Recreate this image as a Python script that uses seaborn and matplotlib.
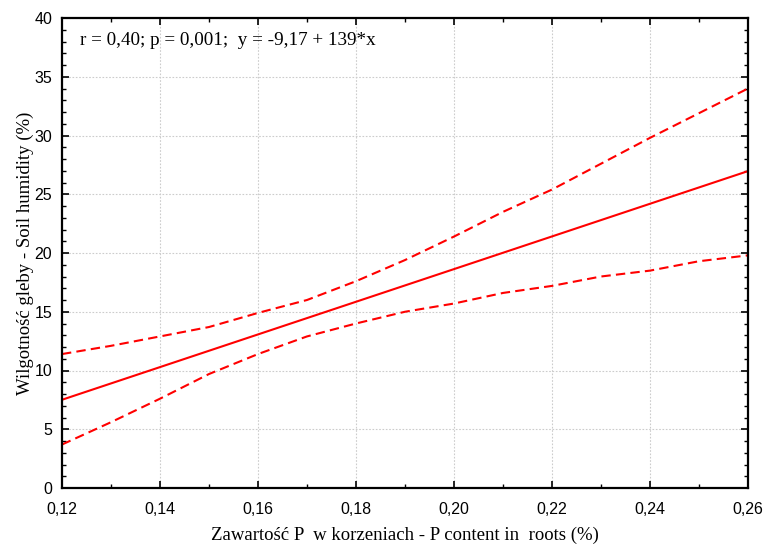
import numpy as np
import pandas as pd
import matplotlib
matplotlib.use("Agg")
import matplotlib.pyplot as plt
from matplotlib.ticker import MultipleLocator, FuncFormatter
import seaborn as sns

# Phosphorus content in roots (%)
p_content = [0.12, 0.13, 0.14, 0.15, 0.16, 0.17, 0.18, 0.19, 0.20,
             0.21, 0.22, 0.23, 0.24, 0.25, 0.26]
# 95% confidence band for the regression line
upper_ci = [11.4, 12.1, 12.9, 13.7, 14.9, 16.0, 17.6, 19.4, 21.4,
            23.5, 25.4, 27.6, 29.8, 31.9, 34.0]
lower_ci = [3.7, 5.6, 7.6, 9.7, 11.4, 12.9, 14.0, 15.0, 15.7,
            16.6, 17.2, 18.0, 18.5, 19.3, 19.8]
# Regression statistics
r_value = "0,40"
p_value = "0,001"
intercept = -9.17
slope = 139

x = np.array(p_content)
df = pd.DataFrame({
    "x": np.concatenate([x, x, x]),
    "y": np.concatenate([intercept + slope * x, upper_ci, lower_ci]),
    "kind": ["fit"] * len(x) + ["upper"] * len(x) + ["lower"] * len(x),
})

sns.set_theme(style="white")
plt.rcParams["font.family"] = ["Liberation Sans", "DejaVu Sans"]

fig = plt.figure(figsize=(7.66, 5.46), dpi=100)
ax = fig.add_axes([62 / 766, 58 / 546, 686 / 766, 470 / 546])

sns.lineplot(data=df, x="x", y="y", hue="kind", style="kind",
             palette={"fit": "#ff0000", "upper": "#ff0000", "lower": "#ff0000"},
             dashes={"fit": "", "upper": (4.5, 2.5), "lower": (4.5, 2.5)},
             linewidth=1.5, legend=False, ax=ax, sort=True)

ax.set_xlim(0.12, 0.26)
ax.set_ylim(0, 40)
ax.xaxis.set_major_locator(MultipleLocator(0.02))
ax.xaxis.set_minor_locator(MultipleLocator(0.01))
ax.yaxis.set_major_locator(MultipleLocator(5))
ax.yaxis.set_minor_locator(MultipleLocator(1))
ax.xaxis.set_major_formatter(FuncFormatter(lambda v, _: f"{v:.2f}".replace(".", ",")))
ax.yaxis.set_major_formatter(FuncFormatter(lambda v, _: f"{v:.0f}"))

ax.grid(True, which="major", color="#cccccc", linestyle=(0, (1.5, 1.5)), linewidth=0.8)
for s in ax.spines.values():
    s.set_color("black")
    s.set_linewidth(1.6)

ax.tick_params(which="major", direction="in", length=5, width=1.2, color="black",
               top=True, right=True, bottom=True, left=True,
               labelsize=11.5, labelcolor="black")
ax.tick_params(axis="x", which="major", pad=10)
ax.tick_params(axis="y", which="major", pad=7)
ax.tick_params(which="minor", direction="in", length=3, width=1.0, color="black",
               top=True, right=True, bottom=True, left=True)

serif = ["Liberation Serif", "DejaVu Serif"]
ax.set_xlabel("Zawartość P  w korzeniach - P content in  roots (%)",
              family=serif, fontsize=13.5, color="black", labelpad=7)
ax.set_ylabel("Wilgotność gleby - Soil humidity (%)",
              family=serif, fontsize=13.5, color="black", labelpad=0)

eq = (f"r = {r_value}; p = {p_value};  y = {intercept:.2f} + {slope}*x").replace(".", ",")
ax.text(0.026, 0.953, eq, transform=ax.transAxes, family=serif, fontsize=13.8,
        color="black", ha="left", va="center")

fig.savefig("out.png", dpi=100, facecolor="white")
